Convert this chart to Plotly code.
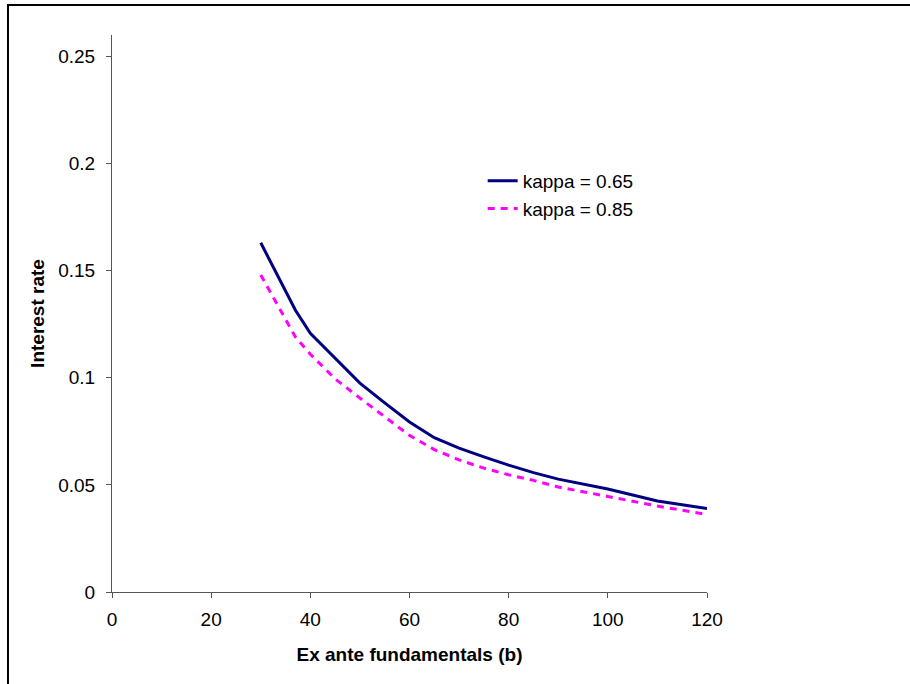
import plotly.graph_objects as go

b_values = [30, 37, 40, 45, 50, 55, 60, 65, 70, 75, 80, 85, 90, 100, 110, 120]
kappa_065 = [0.163, 0.1315, 0.1207, 0.109, 0.0975, 0.0883, 0.0794, 0.072, 0.0672, 0.0631, 0.0592, 0.0557, 0.0527, 0.0481, 0.0425, 0.039]
kappa_085 = [0.148, 0.119, 0.111, 0.0995, 0.0905, 0.082, 0.0731, 0.0665, 0.0617, 0.0578, 0.0547, 0.0521, 0.049, 0.0446, 0.0401, 0.0362]

x_ticks = [0, 20, 40, 60, 80, 100, 120]
y_ticks = [0, 0.05, 0.1, 0.15, 0.2, 0.25]
y_tick_labels = ["0", "0.05", "0.1", "0.15", "0.2", "0.25"]

fig = go.Figure()
fig.add_trace(go.Scatter(x=b_values, y=kappa_065, mode="lines", name="kappa = 0.65",
                         line=dict(color="#000080", width=3)))
fig.add_trace(go.Scatter(x=b_values, y=kappa_085, mode="lines", name="kappa = 0.85",
                         line=dict(color="#FF00FF", width=3, dash="7px,6px")))

font_family = "Liberation Sans, Arial, sans-serif"
fig.update_layout(
    width=910, height=684,
    margin=dict(l=112, r=203, t=35, b=92),
    paper_bgcolor="white", plot_bgcolor="white",
    font=dict(family=font_family, size=19, color="black"),
    showlegend=True,
    legend=dict(x=0.623, y=0.772, xanchor="left", yanchor="top",
                bgcolor="rgba(0,0,0,0)", font=dict(size=19), tracegroupgap=0),
    xaxis=dict(range=[0, 120], tickvals=x_ticks, showgrid=False, zeroline=False,
               showline=True, linecolor="#555555", linewidth=1,
               ticks="outside", ticklen=5, tickcolor="#555555",
               tickfont=dict(size=19), ticklabelstandoff=5,
               title=dict(text="<b>Ex ante fundamentals (b)</b>", font=dict(size=19), standoff=18)),
    yaxis=dict(range=[0, 0.26], tickvals=y_ticks, ticktext=y_tick_labels, showgrid=False,
               zeroline=False, showline=True, linecolor="#555555", linewidth=1,
               ticks="outside", ticklen=5, tickcolor="#555555",
               tickfont=dict(size=19), ticklabelstandoff=7,
               title=dict(text="<b>Interest rate</b>", font=dict(size=19), standoff=8)),
    shapes=[dict(type="rect", xref="paper", yref="paper",
                 x0=-0.1748, x1=1.6, y0=-0.5, y1=1.0539,
                 line=dict(color="black", width=2), fillcolor="rgba(0,0,0,0)")],
)

fig.write_html("out.html", config={"displayModeBar": False},
               post_script="document.body.style.margin='0';")
